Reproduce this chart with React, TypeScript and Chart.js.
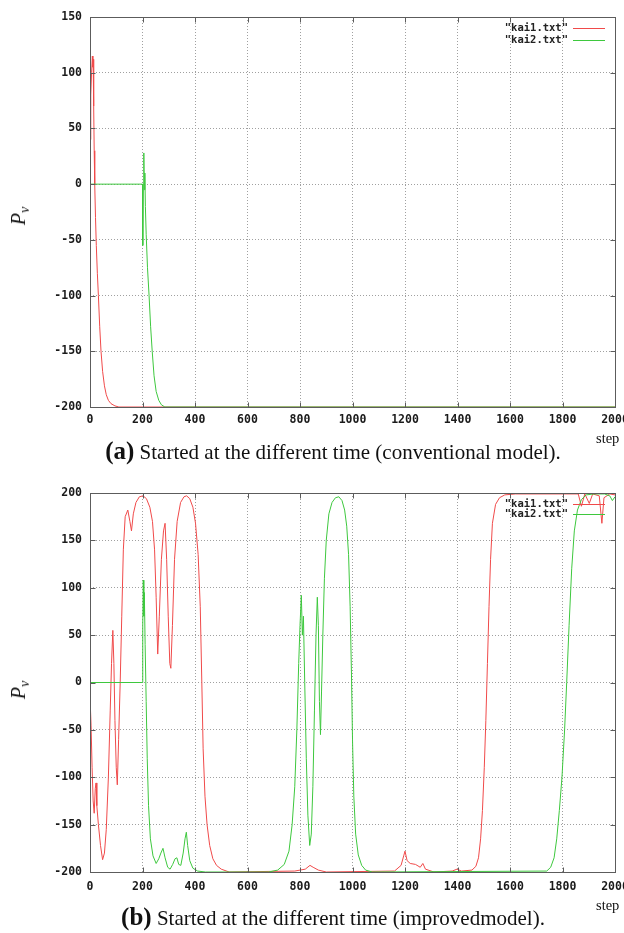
import React, { useEffect, useRef } from "react";
import { Chart, registerables } from "chart.js";
Chart.register(...registerables);

// ---------- data ----------
const xTickValues = [0, 200, 400, 600, 800, 1000, 1200, 1400, 1600, 1800, 2000];
const topYTickValues = [-200, -150, -100, -50, 0, 50, 100, 150];
const bottomYTickValues = [-200, -150, -100, -50, 0, 50, 100, 150, 200];
const seriesNames = ['"kai1.txt"', '"kai2.txt"'];
const seriesColors = ["#f04a4a", "#3ec83e"];

// (a) conventional model
const topKai1Steps = [0, 3, 6, 9, 11, 12, 14, 16, 18, 21, 24, 28, 32, 37, 42, 48, 55, 62, 70, 80, 95, 110, 2000];
const topKai1Values = [40, 80, 100, 115, 105, 112, 70, 30, 0, -30, -55, -80, -100, -128, -150, -168, -181, -189, -194, -197, -199, -200, -200];
const topKai2Steps = [0, 200, 201, 203, 205, 207, 209, 211, 214, 219, 225, 231, 237, 244, 252, 262, 272, 285, 2000];
const topKai2Values = [0, 0, -55, 0, 28, -5, 10, -20, -45, -75, -100, -128, -150, -172, -186, -194, -198, -200, -200];

// (b) improved model
const bottomKai1Steps = [0, 4, 8, 12, 16, 20, 23, 26, 32, 40, 48, 55, 62, 70, 77, 82, 87, 91, 95, 100, 104, 109, 115, 121, 127, 134, 144, 152, 158, 165, 175, 188, 202, 215, 228, 238, 246, 252, 258, 264, 272, 280, 286, 292, 298, 304, 308, 314, 322, 332, 345, 358, 368, 380, 392, 402, 412, 420, 426, 431, 438, 446, 456, 468, 482, 500, 530, 780, 820, 838, 850, 870, 900, 1160, 1185, 1195, 1200, 1208, 1220, 1240, 1258, 1268, 1278, 1310, 1380, 1398, 1415, 1455, 1470, 1480, 1488, 1495, 1502, 1508, 1514, 1520, 1526, 1533, 1545, 1560, 1580, 1620, 1860, 1872, 1885, 1902, 1915, 1940, 1950, 1958, 1980, 2000];
const bottomKai1Values = [-15, -45, -90, -125, -138, -112, -106, -130, -150, -172, -187, -180, -155, -100, -30, 20, 55, 20, -40, -90, -108, -60, 0, 70, 140, 175, 182, 170, 160, 178, 190, 196, 197, 194, 185, 170, 140, 90, 30, 70, 130, 160, 168, 130, 70, 20, 15, 60, 130, 170, 190, 196, 197, 194, 185, 168, 135, 80, 0, -70, -120, -150, -172, -186, -193, -197, -200, -199, -197, -193, -195, -198, -200, -199, -193, -183, -178, -188, -191, -192, -195, -191, -197, -200, -199, -197, -199, -198, -194, -185, -165, -135, -90, -40, 20, 80, 130, 168, 188, 195, 198, 199, 199, 186, 199, 189, 199, 197, 168, 195, 199, 198];
const bottomKai2Steps = [0, 200, 201, 203, 205, 207, 210, 214, 218, 223, 230, 240, 252, 262, 270, 278, 286, 296, 305, 315, 324, 331, 338, 346, 355, 362, 367, 372, 380, 392, 410, 440, 680, 715, 740, 758, 770, 780, 788, 795, 800, 805, 809, 813, 818, 824, 830, 837, 843, 849, 855, 861, 866, 870, 874, 878, 882, 887, 893, 900, 910, 922, 935, 948, 960, 970, 978, 985, 991, 996, 1000, 1005, 1012, 1022, 1035, 1050, 1075, 1740, 1755, 1768, 1778, 1788, 1798, 1808, 1816, 1825, 1835, 1845, 1857, 1872, 1890, 1920, 1960, 1980, 1990, 2000];
const bottomKai2Values = [0, 0, 60, 108, 70, 95, 40, -20, -80, -130, -165, -183, -191, -186, -180, -175, -185, -195, -197, -192, -186, -185, -192, -193, -180, -165, -158, -172, -188, -196, -199, -200, -200, -198, -192, -178, -150, -110, -50, 20, 60, 92, 50, 70, 0, -80, -140, -172, -160, -110, -30, 50, 90, 60, -20, -55, -10, 50, 110, 150, 178, 190, 195, 196, 192, 182, 165, 135, 80, 10, -60, -120, -160, -182, -193, -198, -200, -199, -195, -185, -165, -135, -100, -50, 0, 60, 120, 160, 182, 193, 198, 199, 199, 197, 192, 196];

const toPoints = (xs: number[], ys: number[]) => xs.map((x, i) => ({ x, y: ys[i] }));

// ---------- plugin: gnuplot-like frame, inner ticks, key ----------
const gnuFrame = {
  id: "gnuFrame",
  afterDatasetsDraw(chart: any, _args: any, opts: any) {
    const { ctx, chartArea: a, scales } = chart;
    ctx.save();
    ctx.strokeStyle = "#5c5c5c";
    ctx.lineWidth = 1;
    const L = Math.round(a.left) + 0.5;
    const T = Math.round(a.top) + 0.5;
    const R = Math.round(a.right) + 0.5;
    const B = Math.round(a.bottom) + 0.5;
    ctx.strokeRect(L, T, R - L, B - T);
    ctx.beginPath();
    for (const v of opts.xTicks) {
      const x = Math.round(scales.x.getPixelForValue(v)) + 0.5;
      ctx.moveTo(x, B); ctx.lineTo(x, B - 5);
      ctx.moveTo(x, T); ctx.lineTo(x, T + 5);
    }
    for (const v of opts.yTicks) {
      const y = Math.round(scales.y.getPixelForValue(v)) + 0.5;
      ctx.moveTo(L, y); ctx.lineTo(L + 5, y);
      ctx.moveTo(R, y); ctx.lineTo(R - 5, y);
    }
    ctx.stroke();
    ctx.font = 'bold 10.5px "DejaVu Sans Mono"';
    ctx.textAlign = "right";
    ctx.textBaseline = "middle";
    chart.data.datasets.forEach((ds: any, i: number) => {
      const y = Math.round(a.top + opts.keyTop + i * opts.keyGap) + 0.5;
      ctx.fillStyle = "#222";
      ctx.fillText(ds.label, a.right - 47, y);
      ctx.strokeStyle = ds.borderColor;
      ctx.beginPath();
      ctx.moveTo(a.right - 42, y);
      ctx.lineTo(a.right - 10, y);
      ctx.stroke();
    });
    ctx.restore();
  },
};

type PlotProps = {
  top: number;
  height: number;
  yMin: number;
  yMax: number;
  yTicks: number[];
  kai1: { x: number; y: number }[];
  kai2: { x: number; y: number }[];
  keyGap: number;
  xPad: number;
};

function Plot(p: PlotProps) {
  const ref = useRef<HTMLCanvasElement | null>(null);
  useEffect(() => {
    if (!ref.current) return;
    const tickFont = { family: '"DejaVu Sans Mono", monospace', size: 11.5, weight: "bold" as const };
    const chart = new Chart(ref.current, {
      type: "line",
      data: {
        datasets: [
          { label: seriesNames[0], data: p.kai1, borderColor: seriesColors[0], borderWidth: 1, pointRadius: 0, tension: 0, order: 1 },
          { label: seriesNames[1], data: p.kai2, borderColor: seriesColors[1], borderWidth: 1, pointRadius: 0, tension: 0, order: 0 },
        ],
      },
      options: {
        responsive: false,
        animation: false,
        devicePixelRatio: 1,
        layout: { padding: { top: 17, right: 35, left: 0, bottom: 0 } },
        plugins: {
          legend: { display: false },
          tooltip: { enabled: false },
          gnuFrame: { xTicks: xTickValues, yTicks: p.yTicks, keyTop: 11, keyGap: p.keyGap },
        } as any,
        scales: {
          x: {
            type: "linear",
            min: 0,
            max: 2000,
            afterBuildTicks: (s: any) => { s.ticks = xTickValues.map((v) => ({ value: v })); },
            afterFit: (s: any) => { s.height = 33; },
            ticks: { font: tickFont, color: "#1a1a1a", padding: p.xPad, maxRotation: 0, autoSkip: false, callback: (v: any) => String(v) },
            grid: { color: "#a0a0a0", drawTicks: false, lineWidth: 1 },
            border: { display: false, dash: [1, 2] },
          },
          y: {
            type: "linear",
            min: p.yMin,
            max: p.yMax,
            afterBuildTicks: (s: any) => { s.ticks = p.yTicks.map((v) => ({ value: v })); },
            afterFit: (s: any) => { s.width = 90; },
            ticks: { font: tickFont, color: "#1a1a1a", padding: 8, callback: (v: any) => String(v) },
            grid: { color: "#a0a0a0", drawTicks: false, lineWidth: 1 },
            border: { display: false, dash: [1, 2] },
          },
        },
      },
      plugins: [gnuFrame],
    });
    return () => chart.destroy();
  }, []);
  return (
    <canvas
      ref={ref}
      width={650}
      height={p.height}
      style={{ position: "absolute", left: 0, top: p.top, width: 650, height: p.height }}
    />
  );
}

function YLabel({ cy }: { cy: number }) {
  return (
    <div
      style={{
        position: "absolute",
        left: 20,
        top: cy,
        transform: "translate(-50%, -50%) rotate(-90deg)",
        fontFamily: '"Liberation Serif", serif',
        fontStyle: "italic",
        fontSize: 20,
        whiteSpace: "nowrap",
        lineHeight: 1,
      }}
    >
      P<sub style={{ fontSize: 14, verticalAlign: "-4px" }}>ν</sub>
    </div>
  );
}

function StepLabel({ cy }: { cy: number }) {
  return (
    <div
      style={{
        position: "absolute",
        left: 596,
        top: cy,
        transform: "translateY(-50%)",
        fontFamily: '"Liberation Serif", serif',
        fontSize: 14.5,
        lineHeight: 1,
        whiteSpace: "nowrap",
      }}
    >
      step
    </div>
  );
}

function Caption({ cy, letter, text }: { cy: number; letter: string; text: string }) {
  return (
    <div
      style={{
        position: "absolute",
        left: 33,
        width: 600,
        top: cy,
        transform: "translateY(-50%)",
        textAlign: "center",
        fontFamily: '"Liberation Serif", serif',
        fontSize: 21,
        lineHeight: 1,
        whiteSpace: "nowrap",
      }}
    >
      <b style={{ fontSize: 25 }}>({letter})</b> {text}
    </div>
  );
}

export default function App() {
  return (
    <div
      style={{
        position: "absolute",
        left: 0,
        top: 0,
        width: 624,
        height: 933,
        overflow: "hidden",
        background: "#fff",
        color: "#111",
      }}
    >
      <Plot
        top={0}
        height={440}
        yMin={-200}
        yMax={150}
        yTicks={topYTickValues}
        kai1={toPoints(topKai1Steps, topKai1Values)}
        kai2={toPoints(topKai2Steps, topKai2Values)}
        keyGap={12}
        xPad={6}
      />
      <Plot
        top={476}
        height={429}
        yMin={-200}
        yMax={200}
        yTicks={bottomYTickValues}
        kai1={toPoints(bottomKai1Steps, bottomKai1Values)}
        kai2={toPoints(bottomKai2Steps, bottomKai2Values)}
        keyGap={10}
        xPad={8}
      />
      <YLabel cy={216} />
      <YLabel cy={690} />
      <StepLabel cy={438} />
      <StepLabel cy={905} />
      <Caption cy={450} letter="a" text="Started at the different time (conventional model)." />
      <Caption cy={916} letter="b" text="Started at the different time (improvedmodel)." />
    </div>
  );
}
